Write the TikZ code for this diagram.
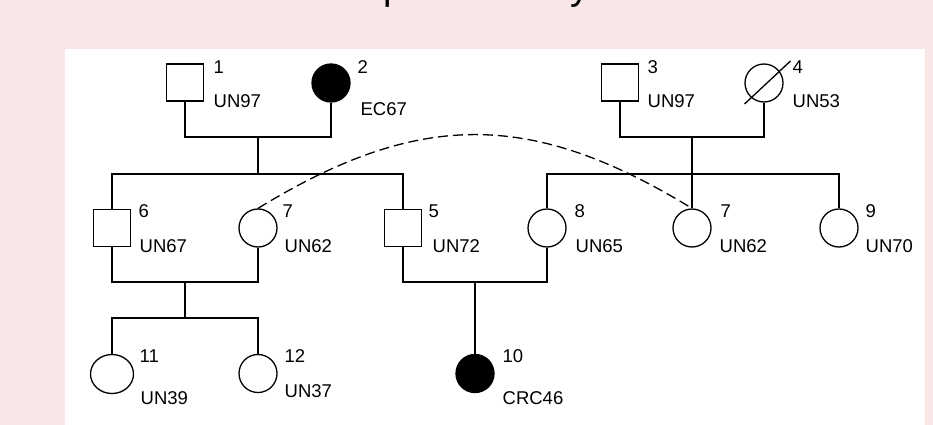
\documentclass[tikz,border=0pt]{standalone}
\usepackage{fontspec}
\setmainfont{Liberation Sans}
\usetikzlibrary{calc, shapes.geometric}

\definecolor{pinkbg}{RGB}{249,230,230}

\begin{document}
\begin{tikzpicture}[x=1pt, y=-1pt, line width=1.3pt,
  font=\fontsize{18.5}{22}\selectfont,
  male/.style={draw, rectangle, minimum size=37pt, inner sep=0pt},
  female/.style={draw, circle, minimum size=38pt, inner sep=0pt},
  affected/.style={fill=black},
  lab/.style={anchor=west, inner sep=0pt},
  dup/.style={dash pattern=on 10pt off 5pt}]
  \useasboundingbox (0,0) rectangle (933,425);
  \clip (0,0) rectangle (933,425);
  \fill[pinkbg] (0,0) rectangle (933,425);
  \fill[white] (65,49) rectangle (925,425);
  % --- title, cut by the top edge ---
  \node[anchor=base west, inner sep=0pt, font=\fontsize{38}{40}\selectfont] (tp) at (383,0) {p};
  \node[anchor=base west, inner sep=0pt, font=\fontsize{38}{40}\selectfont] (ty) at (570,0) {y};
  % --- generation I ---
  \node[male] (p1) at (185,82.5) {};
  \node[female, affected] (p2) at (331,83) {};
  \node[male] (p3) at (620,82.5) {};
  \node[female] (p4) at (764,83) {};
  \draw ([shift={(-19.5,21)}]p4.center) -- ([shift={(26.5,-22)}]p4.center);
  \node[lab] (n1) at (213,67) {1};
  \node[lab] (a1) at (213,101.5) {UN97};
  \node[lab] (n2) at (357,67) {2};
  \node[lab] (a2) at (360,109) {EC67};
  \node[lab] (n3) at (647,67) {3};
  \node[lab] (a3) at (647,101.5) {UN97};
  \node[lab] (n4) at (792,67) {4};
  \node[lab] (a4) at (792,101.5) {UN53};
  % --- generation II ---
  \node[male] (p6) at (112,228) {};
  \node[female] (p7a) at (258,228) {};
  \node[male] (p5) at (403,228) {};
  \node[female] (p8) at (547,228) {};
  \node[female] (p7) at (692,228) {};
  \node[female] (p9) at (839,228) {};
  \node[lab] (n6) at (138,211) {6};
  \node[lab] (a6) at (139,246.5) {UN67};
  \node[lab] (n7a) at (282,211) {7};
  \node[lab] (a7a) at (284,246.5) {UN62};
  \node[lab] (n5) at (428,211) {5};
  \node[lab] (a5) at (432,246.5) {UN72};
  \node[lab] (n8) at (574,211) {8};
  \node[lab] (a8) at (575,246.5) {UN65};
  \node[lab] (n7) at (720,211) {7};
  \node[lab] (a7) at (719,246.5) {UN62};
  \node[lab] (n9) at (865,211) {9};
  \node[lab] (a9) at (865,246.5) {UN70};
  % --- generation III ---
  \node[female, ellipse, minimum width=43pt, minimum height=39pt] (p11) at (112,374) {};
  \node[female] (p12) at (258,373.5) {};
  \node[female, affected] (p10) at (475,373.5) {};
  \node[lab] (n11) at (139,356) {11};
  \node[lab] (a11) at (140,398.5) {UN39};
  \node[lab] (n12) at (284,356) {12};
  \node[lab] (a12) at (284,391.5) {UN37};
  \node[lab] (n10) at (502,356) {10};
  \node[lab] (a10) at (502,398.5) {CRC46};
  % --- lines of descent ---
  \coordinate (m12) at (258,137);
  \coordinate (s12) at (258,174);
  \draw (p1.south) |- (m12) -| (p2.south);
  \draw (m12) -- (s12);
  \draw (p6.north) |- (s12) -| (p5.north);
  \coordinate (m34) at (692,137);
  \coordinate (s34) at (692,174);
  \draw (p3.south) |- (m34) -| (p4.south);
  \draw (m34) -- (p7.north);
  \draw (p8.north) |- (s34) -| (p9.north);
  \coordinate (m67) at (185,282);
  \coordinate (s67) at (185,318);
  \draw (p6.south) |- (m67) -| (p7a.south);
  \draw (m67) -- (s67);
  \draw (p11.north) |- (s67) -| (p12.north);
  \coordinate (m58) at (475,282);
  \draw (p5.south) |- (m58) -| (p8.south);
  \draw (m58) -- (p10.north);
  % same person drawn twice
  \draw[dup] (p7a.north) .. controls (419,110) and (531,110) .. (p7.north);
\end{tikzpicture}
\end{document}
